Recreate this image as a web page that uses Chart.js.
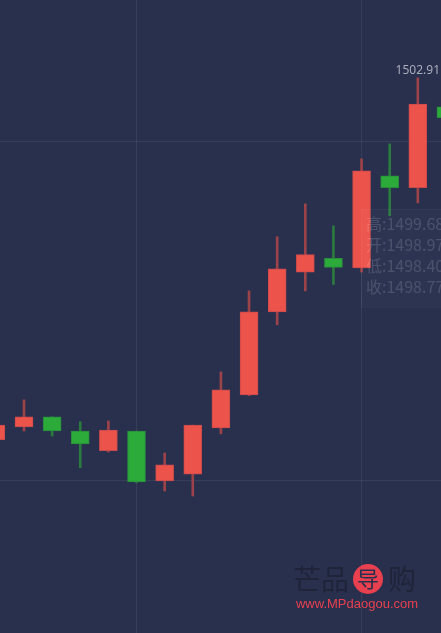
<!DOCTYPE html>
<html>
<head>
<meta charset="utf-8">
<script src="https://cdn.jsdelivr.net/npm/chart.js@4/dist/chart.umd.min.js"></script>
<style>
  html, body { margin: 0; padding: 0; background: #28304e; }
  #wrap { position: relative; width: 441px; height: 633px; }
</style>
</head>
<body>
<div id="wrap"><canvas id="kline"></canvas></div>
<script>
// candle data (index = position along the axis)
const idx    = [0, 1, 2, 3, 4, 5, 6, 7, 8, 9, 10, 11, 12, 13, 14, 15, 16]
const opens  = [1495.01, 1495.29, 1495.51, 1495.20, 1494.77, 1495.20, 1494.11, 1494.26, 1495.27, 1495.99, 1497.80, 1498.67, 1498.97, 1498.76, 1500.77, 1500.51, 1502.28]
const closes = [1495.33, 1495.51, 1495.20, 1494.92, 1495.22, 1494.09, 1494.46, 1495.33, 1496.10, 1497.80, 1498.74, 1499.05, 1498.77, 1500.88, 1500.51, 1502.34, 1502.04]
const highs  = [1495.45, 1495.88, 1495.51, 1495.40, 1495.42, 1495.20, 1494.72, 1495.33, 1496.49, 1498.26, 1499.44, 1500.16, 1499.68, 1501.14, 1501.47, 1502.91, 1502.50]
const lows   = [1494.95, 1495.20, 1495.09, 1494.40, 1494.74, 1494.07, 1493.89, 1493.78, 1495.14, 1495.97, 1497.52, 1498.26, 1498.40, 1498.67, 1499.90, 1500.18, 1501.80]

// split lines
const xGrid = [5, 13]
const yGrid = [1494.13, 1501.51]

// tooltip shown for candle 12
const tipIndex = 12
const tipNames = ['高', '开', '低', '收']

const upColor = '#ec544b', upBorder = '#c94a4c', upWick = '#9c4249'
const downColor = '#2cab3b', downBorder = '#2a8c3c', downWick = '#2b7a3e'

const isUp = idx.map(i => closes[i] >= opens[i])

const bodies = idx.map(i => ({x: i, y: [opens[i], closes[i]]}))
const wicks = idx.map(i => ({x: i, y: [lows[i], highs[i]]}))

const overlay = {
    id: 'overlay',
    afterDatasetsDraw(chart){
        const ctx = chart.ctx
        const xs = chart.scales.x, ys = chart.scales.y
        ctx.save()

        // max label
        let maxI = 0
        highs.forEach((h, i) => { if(h > highs[maxI]) maxI = i })
        ctx.font = '12px "Noto Sans", "DejaVu Sans", sans-serif'
        ctx.fillStyle = '#a9adba'
        ctx.textAlign = 'center'
        ctx.textBaseline = 'bottom'
        ctx.fillText(highs[maxI].toFixed(2), xs.getPixelForValue(maxI), ys.getPixelForValue(highs[maxI]) - 1)

        // faded tooltip box
        ctx.fillStyle = 'rgba(255,255,255,0.025)'
        ctx.strokeStyle = 'rgba(255,255,255,0.03)'
        ctx.lineWidth = 1
        ctx.fillRect(361, 209, 100, 98)
        ctx.strokeRect(361.5, 209.5, 100, 98)

        const tipVals = [highs[tipIndex], opens[tipIndex], lows[tipIndex], closes[tipIndex]]
        ctx.font = '16px "Noto Sans CJK SC", sans-serif'
        ctx.fillStyle = 'rgba(255,255,255,0.14)'
        ctx.textAlign = 'left'
        ctx.textBaseline = 'middle'
        tipVals.forEach((v, k) => {
            ctx.fillText(tipNames[k] + ':' + v.toFixed(2), 366, 224 + k * 21)
        })

        // watermark
        ctx.font = '28px "Noto Sans CJK SC", sans-serif'
        ctx.fillStyle = 'rgba(22,24,36,0.5)'
        ctx.textAlign = 'left'
        ctx.fillText('芒品', 293, 579)
        ctx.fillText('购', 388, 579)
        ctx.beginPath()
        ctx.arc(368, 579, 15, 0, Math.PI * 2)
        ctx.fillStyle = '#e8404f'
        ctx.fill()
        ctx.font = '22px "Noto Sans CJK SC", sans-serif'
        ctx.fillStyle = '#28304e'
        ctx.textAlign = 'center'
        ctx.fillText('导', 368, 579)
        ctx.font = '13px "Liberation Sans", Arial, sans-serif'
        ctx.fillStyle = '#e8404f'
        ctx.fillText('www.MPdaogou.com', 357, 604)

        ctx.restore()
    }
}

const gridColor = 'rgba(255,255,255,0.07)'

new Chart(document.getElementById('kline'), {
    type: 'bar',
    data: {
        datasets: [
            {
                label: 'body',
                data: bodies,
                grouped: false,
                order: 0,
                barThickness: 18,
                backgroundColor: idx.map(i => isUp[i] ? upColor : downColor),
                borderColor: idx.map(i => isUp[i] ? upBorder : downBorder),
                borderWidth: 1,
                borderSkipped: false
            },
            {
                label: 'wick',
                data: wicks,
                grouped: false,
                order: 1,
                barThickness: 2,
                backgroundColor: idx.map(i => isUp[i] ? upWick : downWick),
                borderWidth: 0
            }
        ]
    },
    options: {
        responsive: true,
        maintainAspectRatio: false,
        animation: false,
        layout: {padding: 0},
        plugins: {legend: {display: false}, tooltip: {enabled: false}},
        scales: {
            x: {
                type: 'linear',
                offset: false,
                min: 0.1468,
                max: 15.824,
                afterBuildTicks: axis => { axis.ticks = xGrid.map(v => ({value: v})) },
                ticks: {display: false},
                grid: {color: gridColor, drawTicks: false, offset: false},
                border: {display: false}
            },
            y: {
                min: 1490.79,
                max: 1504.61,
                afterBuildTicks: axis => { axis.ticks = yGrid.map(v => ({value: v})) },
                ticks: {display: false},
                grid: {color: gridColor, drawTicks: false},
                border: {display: false}
            }
        }
    },
    plugins: [overlay]
})
</script>
</body>
</html>
